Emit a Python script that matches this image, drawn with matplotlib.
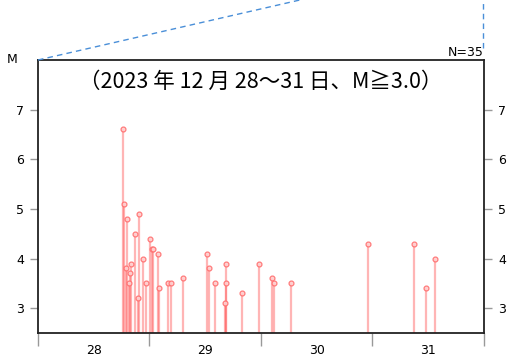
import matplotlib
matplotlib.use('Agg')
import matplotlib.pyplot as plt
from matplotlib.lines import Line2D

# 地震の発生時刻（12月の日付、小数は時刻）とマグニチュード
days = [28.760, 28.774, 28.796, 28.792, 28.813, 28.828, 28.834, 28.867,
        28.897, 28.903, 28.942, 28.966, 29.004, 29.025, 29.034, 29.074,
        29.085, 29.163, 29.190, 29.298, 29.513, 29.536, 29.590, 29.674,
        29.683, 29.689, 29.832, 29.979, 30.096, 30.114, 30.269, 30.962,
        31.375, 31.483, 31.561]
mags = [6.6, 5.1, 4.8, 3.8, 3.5, 3.7, 3.9, 4.5,
        3.2, 4.9, 4.0, 3.5, 4.4, 4.2, 4.2, 4.1,
        3.4, 3.5, 3.5, 3.6, 4.1, 3.8, 3.5, 3.1,
        3.9, 3.5, 3.3, 3.9, 3.6, 3.5, 3.5, 4.3,
        4.3, 3.4, 4.0]
day_labels = ['28', '29', '30', '31']
mag_ticks = [3, 4, 5, 6, 7]
title = '（2023 年 12 月 28～31 日、M≧3.0）'

fig = plt.figure(figsize=(5.1, 3.55), dpi=100)
ax = fig.add_axes([0.0745, 0.062, 0.8745, 0.769])

base = 2.5
ax.vlines(days, base, mags, color='#ff5c5c', alpha=0.45, lw=1.6, zorder=2)
ax.plot(days, mags, 'o', ms=3.5, mfc='#ffd0d0', mec='#ff6f6f', mew=0.9,
        alpha=0.9, zorder=3)

ax.set_xlim(28, 32)
ax.set_ylim(base, 8)

# 日の境界に目盛り、日付は区間の中央に置く
ax.set_xticks([28, 29, 30, 31, 32])
ax.set_xticklabels([])
ax.set_xticks([28.5, 29.5, 30.5, 31.5], minor=True)
ax.set_xticklabels(day_labels, minor=True)
ax.tick_params(axis='x', which='major', length=9, width=1, color='#999999',
               direction='out')
ax.tick_params(axis='x', which='minor', length=0, pad=8, labelsize=9)

ax.set_yticks(mag_ticks)
ax.tick_params(axis='y', which='major', length=6, width=1, color='#999999',
               direction='out', left=True, right=True, labelleft=True,
               labelright=True, labelsize=9, pad=4)

for s in ax.spines.values():
    s.set_linewidth(1.3)
    s.set_color('#222222')

ax.text(-0.045, 1.0, 'M', transform=ax.transAxes, ha='right', va='center',
        fontsize=9)
ax.text(1.0, 1.003, 'N=%d' % len(mags), transform=ax.transAxes, ha='right',
        va='bottom', fontsize=9)
ax.text(0.5, 0.92, title, transform=ax.transAxes, ha='center', va='center',
        fontsize=15.5, family=['Noto Sans CJK JP', 'DejaVu Sans'])

# 上の震央分布図へつながる破線
pos = ax.get_position()
fig.add_artist(Line2D([pos.x0, 0.588], [pos.y1, 1.0], transform=fig.transFigure,
                      color='#4a8fd8', lw=1, ls=(0, (4, 3))))
fig.add_artist(Line2D([0.947, 0.947], [pos.y1 + 0.035, 1.0],
                      transform=fig.transFigure, color='#4a8fd8', lw=1,
                      ls=(0, (4, 3))))

fig.savefig('out.png', dpi=100)
